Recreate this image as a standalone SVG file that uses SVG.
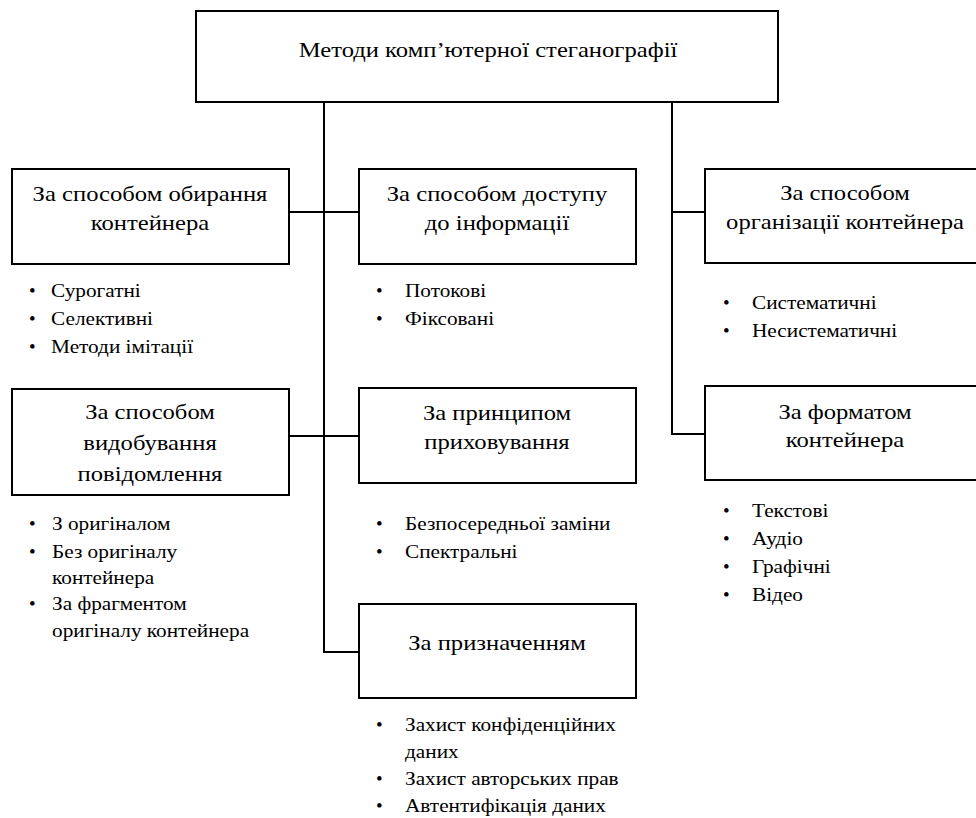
<svg xmlns="http://www.w3.org/2000/svg" width="976" height="818" viewBox="0 0 976 818">
<style>
.box{fill:#fff;stroke:#000;stroke-width:2}
.ln{fill:none;stroke:#000;stroke-width:2}
.h{fill:#000;text-anchor:middle}
.b{fill:#000}
</style>
<rect width="976" height="818" fill="#fff"/>
<g id="connectors">
<path class="ln" d="M324 102V652H359"/>
<path class="ln" d="M672 102V434H705"/>
<path class="ln" d="M289 212H359"/>
<path class="ln" d="M672 212H705"/>
<path class="ln" d="M289 436H359"/>
</g>
<g id="root">
<rect class="box" x="196" y="11" width="582" height="91"/>
<text class="h" style="font-family:'Liberation Serif','Noto Serif','DejaVu Serif',serif;font-size:22px" transform="translate(488 57) scale(1.12 1)">Методи комп’ютерної стеганографії</text>
</g>
<g id="n-choice">
<rect class="box" x="12" y="169" width="277" height="95"/>
<text class="h" style="font-family:'Liberation Serif','Noto Serif','DejaVu Serif',serif;font-size:22px" transform="translate(150 201) scale(1.12 1)">За способом обирання</text>
<text class="h" style="font-family:'Liberation Serif','Noto Serif','DejaVu Serif',serif;font-size:22px" transform="translate(150 230) scale(1.12 1)">контейнера</text>
<text class="b" style="font-family:'Liberation Serif','Noto Serif','DejaVu Serif',serif;font-size:19px" x="29" y="297">•</text><text class="b" style="font-family:'Liberation Serif','Noto Serif','DejaVu Serif',serif;font-size:19px" transform="translate(51 297) scale(1.12 1)">Сурогатні</text>
<text class="b" style="font-family:'Liberation Serif','Noto Serif','DejaVu Serif',serif;font-size:19px" x="29" y="325">•</text><text class="b" style="font-family:'Liberation Serif','Noto Serif','DejaVu Serif',serif;font-size:19px" transform="translate(51 325) scale(1.12 1)">Селективні</text>
<text class="b" style="font-family:'Liberation Serif','Noto Serif','DejaVu Serif',serif;font-size:19px" x="29" y="353">•</text><text class="b" style="font-family:'Liberation Serif','Noto Serif','DejaVu Serif',serif;font-size:19px" transform="translate(51 353) scale(1.12 1)">Методи імітації</text>
</g>
<g id="n-access">
<rect class="box" x="359" y="169" width="277" height="95"/>
<text class="h" style="font-family:'Liberation Serif','Noto Serif','DejaVu Serif',serif;font-size:22px" transform="translate(497 201) scale(1.12 1)">За способом доступу</text>
<text class="h" style="font-family:'Liberation Serif','Noto Serif','DejaVu Serif',serif;font-size:22px" transform="translate(497 230) scale(1.12 1)">до інформації</text>
<text class="b" style="font-family:'Liberation Serif','Noto Serif','DejaVu Serif',serif;font-size:19px" x="376" y="297">•</text><text class="b" style="font-family:'Liberation Serif','Noto Serif','DejaVu Serif',serif;font-size:19px" transform="translate(405 297) scale(1.12 1)">Потокові</text>
<text class="b" style="font-family:'Liberation Serif','Noto Serif','DejaVu Serif',serif;font-size:19px" x="376" y="325">•</text><text class="b" style="font-family:'Liberation Serif','Noto Serif','DejaVu Serif',serif;font-size:19px" transform="translate(405 325) scale(1.12 1)">Фіксовані</text>
</g>
<g id="n-organization">
<rect class="box" x="705" y="169" width="285" height="94"/>
<text class="h" style="font-family:'Liberation Serif','Noto Serif','DejaVu Serif',serif;font-size:22px" transform="translate(845 200) scale(1.12 1)">За способом</text>
<text class="h" style="font-family:'Liberation Serif','Noto Serif','DejaVu Serif',serif;font-size:22px" transform="translate(845 229) scale(1.12 1)">організації контейнера</text>
<text class="b" style="font-family:'Liberation Serif','Noto Serif','DejaVu Serif',serif;font-size:19px" x="723" y="309">•</text><text class="b" style="font-family:'Liberation Serif','Noto Serif','DejaVu Serif',serif;font-size:19px" transform="translate(752 309) scale(1.12 1)">Систематичні</text>
<text class="b" style="font-family:'Liberation Serif','Noto Serif','DejaVu Serif',serif;font-size:19px" x="723" y="337">•</text><text class="b" style="font-family:'Liberation Serif','Noto Serif','DejaVu Serif',serif;font-size:19px" transform="translate(752 337) scale(1.12 1)">Несистематичні</text>
</g>
<g id="n-extraction">
<rect class="box" x="12" y="389" width="277" height="106"/>
<text class="h" style="font-family:'Liberation Serif','Noto Serif','DejaVu Serif',serif;font-size:22px" transform="translate(150 419) scale(1.12 1)">За способом</text>
<text class="h" style="font-family:'Liberation Serif','Noto Serif','DejaVu Serif',serif;font-size:22px" transform="translate(150 450) scale(1.12 1)">видобування</text>
<text class="h" style="font-family:'Liberation Serif','Noto Serif','DejaVu Serif',serif;font-size:22px" transform="translate(150 481) scale(1.12 1)">повідомлення</text>
<text class="b" style="font-family:'Liberation Serif','Noto Serif','DejaVu Serif',serif;font-size:19px" x="29" y="530">•</text><text class="b" style="font-family:'Liberation Serif','Noto Serif','DejaVu Serif',serif;font-size:19px" transform="translate(52 530) scale(1.12 1)">З оригіналом</text>
<text class="b" style="font-family:'Liberation Serif','Noto Serif','DejaVu Serif',serif;font-size:19px" x="29" y="558">•</text><text class="b" style="font-family:'Liberation Serif','Noto Serif','DejaVu Serif',serif;font-size:19px" transform="translate(52 558) scale(1.12 1)">Без оригіналу</text>
<text class="b" style="font-family:'Liberation Serif','Noto Serif','DejaVu Serif',serif;font-size:19px" transform="translate(52 584) scale(1.12 1)">контейнера</text>
<text class="b" style="font-family:'Liberation Serif','Noto Serif','DejaVu Serif',serif;font-size:19px" x="29" y="610">•</text><text class="b" style="font-family:'Liberation Serif','Noto Serif','DejaVu Serif',serif;font-size:19px" transform="translate(52 610) scale(1.12 1)">За фрагментом</text>
<text class="b" style="font-family:'Liberation Serif','Noto Serif','DejaVu Serif',serif;font-size:19px" transform="translate(52 637) scale(1.12 1)">оригіналу контейнера</text>
</g>
<g id="n-principle">
<rect class="box" x="359" y="388" width="277" height="95"/>
<text class="h" style="font-family:'Liberation Serif','Noto Serif','DejaVu Serif',serif;font-size:22px" transform="translate(497 420) scale(1.12 1)">За принципом</text>
<text class="h" style="font-family:'Liberation Serif','Noto Serif','DejaVu Serif',serif;font-size:22px" transform="translate(497 449) scale(1.12 1)">приховування</text>
<text class="b" style="font-family:'Liberation Serif','Noto Serif','DejaVu Serif',serif;font-size:19px" x="376" y="530">•</text><text class="b" style="font-family:'Liberation Serif','Noto Serif','DejaVu Serif',serif;font-size:19px" transform="translate(405 530) scale(1.12 1)">Безпосередньої заміни</text>
<text class="b" style="font-family:'Liberation Serif','Noto Serif','DejaVu Serif',serif;font-size:19px" x="376" y="558">•</text><text class="b" style="font-family:'Liberation Serif','Noto Serif','DejaVu Serif',serif;font-size:19px" transform="translate(405 558) scale(1.12 1)">Спектральні</text>
</g>
<g id="n-format">
<rect class="box" x="705" y="386" width="285" height="94"/>
<text class="h" style="font-family:'Liberation Serif','Noto Serif','DejaVu Serif',serif;font-size:22px" transform="translate(845 419) scale(1.12 1)">За форматом</text>
<text class="h" style="font-family:'Liberation Serif','Noto Serif','DejaVu Serif',serif;font-size:22px" transform="translate(845 447) scale(1.12 1)">контейнера</text>
<text class="b" style="font-family:'Liberation Serif','Noto Serif','DejaVu Serif',serif;font-size:19px" x="723" y="517">•</text><text class="b" style="font-family:'Liberation Serif','Noto Serif','DejaVu Serif',serif;font-size:19px" transform="translate(752 517) scale(1.12 1)">Текстові</text>
<text class="b" style="font-family:'Liberation Serif','Noto Serif','DejaVu Serif',serif;font-size:19px" x="723" y="545">•</text><text class="b" style="font-family:'Liberation Serif','Noto Serif','DejaVu Serif',serif;font-size:19px" transform="translate(752 545) scale(1.12 1)">Аудіо</text>
<text class="b" style="font-family:'Liberation Serif','Noto Serif','DejaVu Serif',serif;font-size:19px" x="723" y="573">•</text><text class="b" style="font-family:'Liberation Serif','Noto Serif','DejaVu Serif',serif;font-size:19px" transform="translate(752 573) scale(1.12 1)">Графічні</text>
<text class="b" style="font-family:'Liberation Serif','Noto Serif','DejaVu Serif',serif;font-size:19px" x="723" y="601">•</text><text class="b" style="font-family:'Liberation Serif','Noto Serif','DejaVu Serif',serif;font-size:19px" transform="translate(752 601) scale(1.12 1)">Відео</text>
</g>
<g id="n-purpose">
<rect class="box" x="359" y="604" width="277" height="94"/>
<text class="h" style="font-family:'Liberation Serif','Noto Serif','DejaVu Serif',serif;font-size:22px" transform="translate(497 650) scale(1.12 1)">За призначенням</text>
<text class="b" style="font-family:'Liberation Serif','Noto Serif','DejaVu Serif',serif;font-size:19px" x="376" y="731">•</text><text class="b" style="font-family:'Liberation Serif','Noto Serif','DejaVu Serif',serif;font-size:19px" transform="translate(405 731) scale(1.12 1)">Захист конфіденційних</text>
<text class="b" style="font-family:'Liberation Serif','Noto Serif','DejaVu Serif',serif;font-size:19px" transform="translate(405 758) scale(1.12 1)">даних</text>
<text class="b" style="font-family:'Liberation Serif','Noto Serif','DejaVu Serif',serif;font-size:19px" x="376" y="785">•</text><text class="b" style="font-family:'Liberation Serif','Noto Serif','DejaVu Serif',serif;font-size:19px" transform="translate(405 785) scale(1.12 1)">Захист авторських прав</text>
<text class="b" style="font-family:'Liberation Serif','Noto Serif','DejaVu Serif',serif;font-size:19px" x="376" y="812">•</text><text class="b" style="font-family:'Liberation Serif','Noto Serif','DejaVu Serif',serif;font-size:19px" transform="translate(405 812) scale(1.12 1)">Автентифікація даних</text>
</g>
</svg>
